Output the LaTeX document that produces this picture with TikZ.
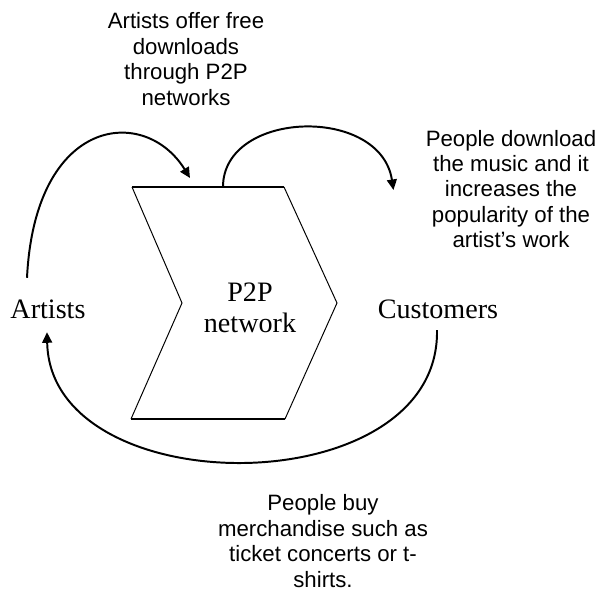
\documentclass[tikz,border=0pt]{standalone}
\usepackage{fontspec}
\setmainfont{Liberation Sans}
\newfontfamily\seriffont{Liberation Serif}
\usetikzlibrary{arrows.meta,calc}

\begin{document}
\begin{tikzpicture}[
    x=0.025cm, y=-0.025cm,
    caption/.style={align=center, inner sep=0pt, font=\fontsize{15.8}{18.1}\selectfont},
    party/.style={align=center, inner sep=0pt, font=\seriffont\fontsize{20}{22}\selectfont},
    arrow/.style={-{Triangle[length=7.5pt,width=7pt]}, line width=1.4pt},
    side/.style={line width=0.7pt},
    rim/.style={line width=1.4pt}
]
\useasboundingbox (0,0) rectangle (600,592);

% Chevron corners
\coordinate (tl) at (132,187);
\coordinate (tr) at (284,187);
\coordinate (tip) at (337,303);
\coordinate (br) at (285,419);
\coordinate (bl) at (131,419);
\coordinate (notch) at (182,303);

% Chevron
\draw[side] (tl) -- (notch) -- (bl);
\draw[side] (tr) -- (tip) -- (br);
\draw[rim] (tl) -- (tr);
\draw[rim] (bl) -- (br);

% Nodes
\node[party] (p2p) at (250,308) {P2P\\network};
\node[party] (artists) at (48,309.5) {Artists};
\node[party] (customers) at (438,309.5) {Customers};
\node[caption] (offer) at (186,59) {Artists offer free\\downloads\\through P2P\\networks};
\node[caption] (download) at (511,189) {People download\\the music and it\\increases the\\popularity of the\\artist's work};
\node[caption] (buy) at (323,541) {People buy\\merchandise such as\\ticket concerts or t-\\shirts.};

% Arrows
\draw[arrow] ($(artists.north)+(-21,-22)$) .. controls +(8,-162) and +(-45,-73) .. ($(tl)+(58,-9)$);
\draw[arrow] ($(tl)+(91,0)$) .. controls +(0,-77) and +(-13,-85) .. ($(download.west)+(-32,1)$);
\draw[arrow] ($(customers.south)+(-1,11)$) .. controls +(3,175) and +(3,173) .. ($(artists.south)+(-1,13)$);

\end{tikzpicture}
\end{document}
